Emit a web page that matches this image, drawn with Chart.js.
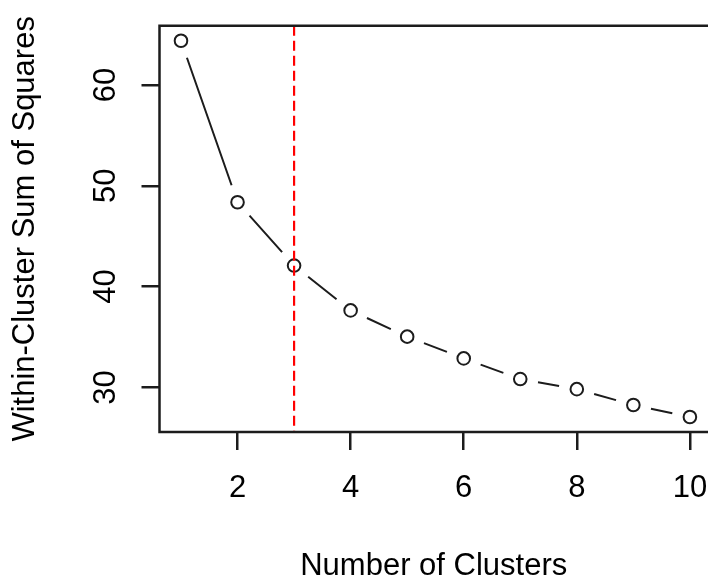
<!DOCTYPE html>
<html><head><meta charset="utf-8">
<script src="https://cdn.jsdelivr.net/npm/chart.js@4.4.1/dist/chart.umd.min.js"></script>
<style>html,body{margin:0;padding:0;background:#fff;} canvas{display:block;}</style>
</head><body>
<canvas id="c" width="708" height="582"></canvas>
<script>
// ---- data ----
const clusters = [1, 2, 3, 4, 5, 6, 7, 8, 9, 10];
const wss = [64.39, 48.37, 42.09, 37.64, 35.04, 32.88, 30.83, 29.83, 28.26, 27.07];
const xTicks = [2, 4, 6, 8, 10];
const yTicks = [30, 40, 50, 60];
const elbowK = 3;
const xTitle = 'Number of Clusters';
const yTitle = 'Within-Cluster Sum of Squares';
const xRange = [0.62, 10.32];
const yRange = [25.58, 65.88];

// ---- style ----
const INK = '#1c1c1c';
const FONT = {family: '"Liberation Sans", Arial, sans-serif', size: 31};

const gapLine = {
  id: 'gapLine',
  beforeDatasetsDraw(chart) {
    const meta = chart.getDatasetMeta(1);
    const pts = meta.data;
    const ctx = chart.ctx;
    const gap = 18;
    ctx.save();
    ctx.strokeStyle = INK;
    ctx.lineWidth = 2;
    ctx.beginPath();
    for (let i = 0; i < pts.length - 1; i++) {
      const a = pts[i], b = pts[i + 1];
      const dx = b.x - a.x, dy = b.y - a.y, d = Math.hypot(dx, dy);
      if (d <= 2 * gap) continue;
      const ux = dx / d, uy = dy / d;
      ctx.moveTo(a.x + ux * gap, a.y + uy * gap);
      ctx.lineTo(b.x - ux * gap, b.y - uy * gap);
    }
    ctx.stroke();
    ctx.restore();
  }
};

const frame = {
  id: 'frame',
  afterDraw(chart) {
    const {left, top, right, bottom} = chart.chartArea;
    const ctx = chart.ctx;
    ctx.save();
    ctx.strokeStyle = INK;
    ctx.lineWidth = 2.5;
    ctx.beginPath();
    ctx.moveTo(right + 10, top);
    ctx.lineTo(left, top);
    ctx.lineTo(left, bottom);
    ctx.lineTo(right + 10, bottom);
    ctx.stroke();
    ctx.restore();
  }
};

new Chart(document.getElementById('c'), {
  type: 'scatter',
  data: {
    datasets: [
      {
        label: 'elbow',
        data: [{x: elbowK, y: yRange[1]}, {x: elbowK, y: yRange[0]}],
        showLine: true,
        borderColor: '#ff0000',
        borderWidth: 2.2,
        borderDash: [10, 5],
        pointRadius: 0,
        order: 0
      },
      {
        label: 'wss',
        data: clusters.map((k, i) => ({x: k, y: wss[i]})),
        showLine: false,
        pointRadius: 6.3,
        pointBorderWidth: 2,
        pointBorderColor: INK,
        pointBackgroundColor: 'rgba(0,0,0,0)',
        clip: false,
        order: 1
      }
    ]
  },
  options: {
    responsive: false,
    animation: false,
    devicePixelRatio: 1,
    layout: {autoPadding: false, padding: {top: 25.7, right: 0, bottom: 0, left: 0}},
    plugins: {legend: {display: false}, tooltip: {enabled: false}},
    scales: {
      x: {
        type: 'linear',
        min: xRange[0], max: xRange[1],
        afterBuildTicks: s => { s.ticks = xTicks.map(v => ({value: v})); },
        afterFit: s => { s.height = 150; s.paddingLeft = 0; s.paddingRight = 0; },
        grid: {drawOnChartArea: false, drawTicks: true, tickLength: 18, color: INK, lineWidth: 2.5},
        border: {display: false},
        ticks: {font: FONT, color: '#000', padding: 19.4, autoSkip: false, maxRotation: 0, minRotation: 0},
        title: {display: true, text: xTitle, font: {...FONT, lineHeight: 1}, color: '#000', padding: {top: 0, bottom: 0.3}}
      },
      y: {
        type: 'linear',
        min: yRange[0], max: yRange[1],
        afterBuildTicks: s => { s.ticks = yTicks.map(v => ({value: v})); },
        afterFit: s => { s.width = 159.5; s.paddingTop = 0; s.paddingBottom = 0; },
        grid: {drawOnChartArea: false, drawTicks: true, tickLength: 18, color: INK, lineWidth: 2.5},
        border: {display: false},
        ticks: {font: FONT, color: '#000', padding: 18, autoSkip: false, minRotation: 90, maxRotation: 90, crossAlign: 'center'},
        title: {display: true, text: yTitle, font: {...FONT, lineHeight: 1}, color: '#000', padding: {top: 10.4, bottom: 0}}
      }
    }
  },
  plugins: [gapLine, frame]
});
</script>
</body></html>
